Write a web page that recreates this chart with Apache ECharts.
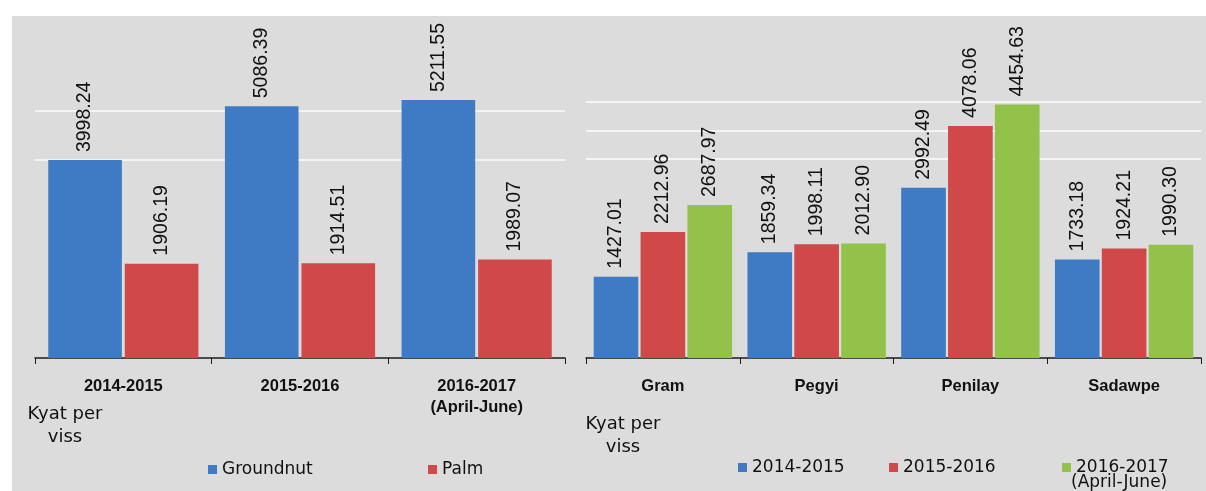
<!DOCTYPE html>
<html>
<head>
<meta charset="utf-8">
<style>
html,body{margin:0;padding:0;background:#fff;}
#c{width:1206px;height:491px;}
</style>
<script src="https://cdn.jsdelivr.net/npm/echarts@6/dist/echarts.min.js"></script>
</head>
<body>
<div id="c"></div>
<script>
// ---- data ----
const leftCategories = ['2014-2015', '2015-2016', '2016-2017\n(April-June)'];
const groundnut = [3998.24, 5086.39, 5211.55];
const palm = [1906.19, 1914.51, 1989.07];

const rightCategories = ['Gram', 'Pegyi', 'Penilay', 'Sadawpe'];
const y2014 = [1427.01, 1859.34, 2992.49, 1733.18];
const y2015 = [2212.96, 1998.11, 4078.06, 1924.21];
const y2016 = [2687.97, 2012.90, 4454.63, 1990.30];

const unitLabel = 'Kyat per\nviss';

// ---- styles ----
const BLUE = '#3f7bc4', RED = '#d04848', GREEN = '#93c24a';
const catFont = '"Liberation Sans", Arial, sans-serif';
const txtFont = '"DejaVu Sans", Arial, sans-serif';

const valueLabel = {
  show: true, position: 'top', rotate: 90, align: 'left', verticalAlign: 'middle',
  distance: 8, color: '#111', fontSize: 19.5, fontFamily: '"Liberation Sans", Arial, sans-serif',
  formatter: p => p.value.toFixed(2)
};

function bar(name, data, color, xi, yi, catGap) {
  return {
    type: 'bar', name, data, xAxisIndex: xi, yAxisIndex: yi,
    itemStyle: { color }, barGap: xi === 0 ? '4%' : '5%', barCategoryGap: catGap,
    label: valueLabel, emphasis: { disabled: true }
  };
}

const chart = echarts.init(document.getElementById('c'), null, { renderer: 'canvas' });
const legendText = { fontSize: 17, color: '#111', fontFamily: txtFont };
const T = 'rgba(0,0,0,0)', G = '#f4f4f4';
const option = {
  animation: false,
  backgroundColor: '#ffffff',
  graphic: [
    { type: 'rect', z: -10, shape: { x: 12, y: 16, width: 1194, height: 475 }, style: { fill: '#dcdcdc' } },
    { type: 'text', x: 65, y: 403, style: { text: unitLabel, fontSize: 18, fill: '#111', fontFamily: txtFont, align: 'center', verticalAlign: 'top', lineHeight: 23 } },
    { type: 'text', x: 623, y: 413, style: { text: unitLabel, fontSize: 18, fill: '#111', fontFamily: txtFont, align: 'center', verticalAlign: 'top', lineHeight: 23 } },
    { type: 'text', x: 1071, y: 474, style: { text: '(April-June)', fontSize: 17, fill: '#111', fontFamily: txtFont, align: 'left', verticalAlign: 'top' } }
  ],
  grid: [
    { left: 35, right: 641, top: 61, bottom: 133 },
    { left: 586, right: 5, top: 73.5, bottom: 133 }
  ],
  xAxis: [0, 1].map(i => ({
    type: 'category', gridIndex: i, data: i === 0 ? leftCategories : rightCategories,
    axisLine: { lineStyle: { color: '#1a1a1a', width: 1.5 } },
    axisTick: { show: true, length: 6, lineStyle: { color: '#1a1a1a' } },
    axisLabel: { color: '#111', fontWeight: 'bold', fontSize: 16.5, fontFamily: catFont, margin: 18, lineHeight: 21 }
  })),
  yAxis: [
    { type: 'value', gridIndex: 0, min: 0, max: 6000, interval: 1000,
      axisLine: { show: false }, axisTick: { show: false }, axisLabel: { show: false },
      splitLine: { lineStyle: { width: 2, color: [T, T, T, T, G, G, T] } } },
    { type: 'value', gridIndex: 1, min: 0, max: 5000, interval: 500,
      axisLine: { show: false }, axisTick: { show: false }, axisLabel: { show: false },
      splitLine: { lineStyle: { width: 2, color: [T, T, T, T, T, T, T, G, G, G, T] } } }
  ],
  legend: [
    { data: ['Groundnut'], left: 203, top: 456, icon: 'rect', itemWidth: 9, itemHeight: 9, textStyle: legendText },
    { data: ['Palm'], left: 423, top: 456, icon: 'rect', itemWidth: 9, itemHeight: 9, textStyle: legendText },
    { data: ['2014-2015'], left: 733, top: 454, icon: 'rect', itemWidth: 9, itemHeight: 9, textStyle: legendText },
    { data: ['2015-2016'], left: 884, top: 454, icon: 'rect', itemWidth: 9, itemHeight: 9, textStyle: legendText },
    { data: ['2016-2017 (April-June)'], left: 1057, top: 454, icon: 'rect', itemWidth: 9, itemHeight: 9,
      formatter: () => '2016-2017', textStyle: legendText }
  ],
  series: [
    bar('Groundnut', groundnut, BLUE, 0, 0, '15%'),
    bar('Palm', palm, RED, 0, 0, '15%'),
    bar('2014-2015', y2014, BLUE, 1, 1, '10%'),
    bar('2015-2016', y2015, RED, 1, 1, '10%'),
    bar('2016-2017 (April-June)', y2016, GREEN, 1, 1, '10%')
  ]
};
chart.setOption(option);
</script>
</body>
</html>
